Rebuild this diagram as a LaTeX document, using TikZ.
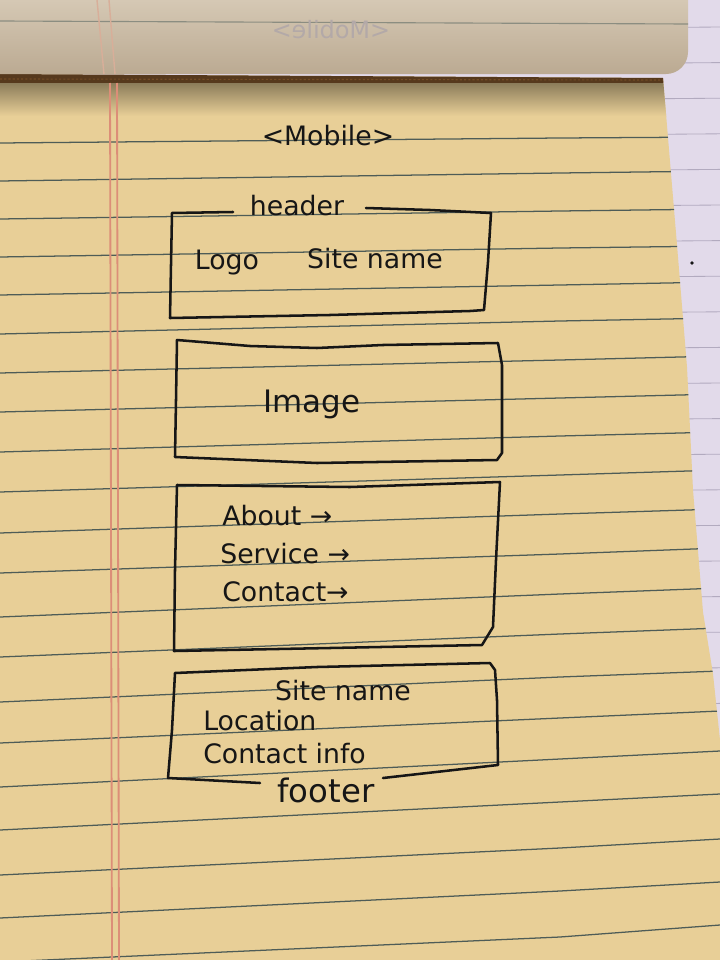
\documentclass[tikz,border=0pt]{standalone}
\usepackage{fontspec}
\setmainfont{DejaVu Sans}

\definecolor{paper}{HTML}{E8CF97}
\definecolor{foldtop}{HTML}{D5C8B4}
\definecolor{foldbot}{HTML}{BBAA92}
\definecolor{rulecol}{HTML}{4E5C57}
\definecolor{margincol}{HTML}{DC8E78}
\definecolor{desk}{HTML}{E2DAEA}
\definecolor{deskrule}{HTML}{B2AABF}
\definecolor{ink}{HTML}{161616}
\definecolor{ghost}{HTML}{B3A9A8}

\tikzstyle{pen}=[draw=ink, line width=1.8pt, line join=round, line cap=round]
\tikzstyle{hand}=[text=ink, font=\fontsize{19}{22}\selectfont, inner sep=0pt]
\tikzstyle{ruling}=[draw=rulecol, line width=0.9pt]
\tikzstyle{marginline}=[draw=margincol, line width=1.3pt]

\begin{document}
\begin{tikzpicture}[x=0.025cm, y=-0.025cm]
\useasboundingbox (0,0) rectangle (720,960);

% pad underneath
\fill[desk] (0,0) rectangle (720,960);
\foreach \y in {0,...,19}{
  \draw[deskrule, line width=0.6pt] (600,{28+35.6*\y}) -- (720,{27+35.6*\y});
}

% yellow sheet
\def\sheet{(0,74) -- (663,78) -- (677,245) -- (687,367) -- (693,490) -- (703,612) -- (713,674) -- (720,740) -- (720,960) -- (0,960) -- cycle}
\fill[paper] \sheet;
\begin{scope}
\clip \sheet;
\fill[black!55!brown] (0,74) rectangle (720,83);
\shade[top color=black!40!paper, bottom color=paper] (0,83) rectangle (720,116);
\draw[black!40!brown, line width=0.8pt, dash pattern=on 1.5pt off 1.5pt] (0,79) -- (663,80);
\foreach \a/\b/\c in {143/138/137, 181/173/171, 219/211/209, 257/248/246, 295/285/282,
  334/321/318, 373/360/356, 412/398/394, 452/436/432, 492/475/470, 533/514/509,
  573/554/548, 617/594/588, 657/634/628, 702/677/671, 743/718/711, 787/759/751,
  830/802/794, 875/848/839, 918/891/882, 962/937/925}{
  \draw[ruling] (0,\a) -- (560,\b) -- (720,\c);
}
\draw[marginline] (110,83) -- (112,960);
\draw[marginline] (117,83) -- (119,960);
\end{scope}

% folded sheet on top
\shade[top color=foldtop, bottom color=foldbot] (0,0) -- (688,0) -- (688,52) to[out=-90,in=0] (666,74) -- (0,74) -- cycle;
\draw[rulecol!55!foldtop, line width=0.8pt] (0,21) -- (688,24);
\draw[margincol!45!foldtop, line width=1pt] (97,0) -- (104,74);
\draw[margincol!45!foldtop, line width=1pt] (109,0) -- (115,74);
\node[hand, text=ghost, xscale=-1, font=\fontsize{17}{20}\selectfont] (ghost) at (331,30) {<Mobile>};

\fill[ink] (692,263) circle (1.3pt);

% header box
\draw[pen] (233,212) -- (172,213) -- (171,265) -- (170,318) -- (330,315) -- (470,311) -- (484,310)
  -- (488,262) -- (491,213) -- (430,210) -- (366,208);
% image box
\draw[pen] (177,340) -- (250,346) -- (317,348) -- (383,345) -- (498,343) -- (502,365) -- (502,453)
  -- (497,460) -- (317,463) -- (175,457) -- (176,400) -- cycle;
% menu box
\draw[pen] (177,485) -- (350,487) -- (500,482) -- (496,560) -- (493,627) -- (482,645) -- (330,648)
  -- (174,651) -- (175,570) -- cycle;
% footer box
\draw[pen] (383,778) -- (498,765) -- (497,700) -- (495,670) -- (490,663) -- (317,667) -- (175,673)
  -- (172,730) -- (168,778) -- (260,783);

% texts
\node[hand, anchor=base] (mobile) at (328,145) {<Mobile>};
\node[hand, anchor=base] (header) at (297,215) {header};
\node[hand, anchor=base] (logo) at (227,269) {Logo};
\node[hand, anchor=base] (sitename) at (375,268) {Site name};
\node[hand, anchor=base, font=\fontsize{22}{26}\selectfont] (image) at (312,412) {Image};
\node[hand, anchor=base west] (about) at (222,525) {About →};
\node[hand, anchor=base west] (service) at (220,563) {Service →};
\node[hand, anchor=base west] (contact) at (222,601) {Contact→};
\node[hand, anchor=base] (footname) at (343,700) {Site name};
\node[hand, anchor=base west] (location) at (203,730) {Location};
\node[hand, anchor=base west] (info) at (203,763) {Contact info};
\node[hand, anchor=base, font=\fontsize{23}{26}\selectfont] (footer) at (326,802) {footer};

\end{tikzpicture}
\end{document}
